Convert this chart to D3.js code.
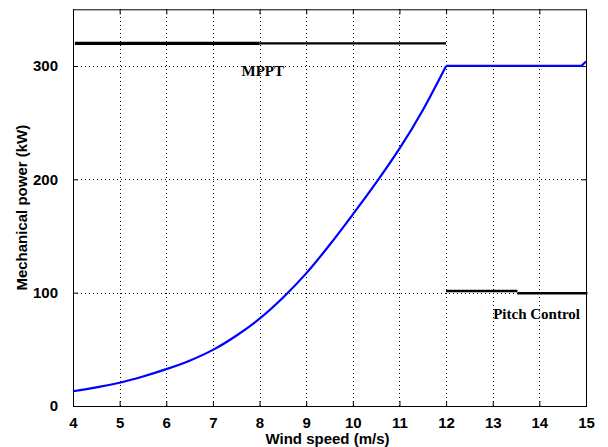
<!DOCTYPE html>
<html>
<head>
<meta charset="utf-8">
<script src="https://cdn.jsdelivr.net/npm/d3@7"></script>
<style>
  html, body { margin: 0; padding: 0; background: #fff; }
  svg { display: block; }
  .tick-label { font-family: "Liberation Sans", Arial, sans-serif; font-weight: bold; font-size: 15px; fill: #000; }
  .axis-title { font-family: "Liberation Sans", Arial, sans-serif; font-weight: bold; font-size: 15px; fill: #000; }
  .annot { font-family: "Liberation Serif", "Times New Roman", serif; font-weight: bold; font-size: 15px; fill: #000; }
</style>
</head>
<body>
<svg id="chart" width="608" height="447"></svg>
<script>
// Wind speed (m/s) and mechanical power (kW) of the turbine
const windSpeed = [4, 4.5, 5, 5.5, 6, 6.5, 7, 7.5, 8, 8.5, 9, 9.5, 10, 10.5, 11, 11.5, 12, 14.9, 15];
const mechPower = [13, 16.5, 20.5, 26, 32.5, 40, 49.5, 62, 77, 95.5, 117, 142, 169, 197, 227, 261, 300, 300, 304];

// Speed at which the power limit is reached (end of MPPT region)
const ratedSpeed = 12;

// Control-region indicator bars: [start speed, end speed, level]
const mpptBars  = [[4.04, 8, 320], [8, 12, 320]];
const pitchBars = [[12, 13.53, 101.5], [13.53, 15.03, 99.5]];

// Axis ticks
const xTicks = [4, 5, 6, 7, 8, 9, 10, 11, 12, 13, 14, 15];
const yTicks = [0, 100, 200, 300];

const svg = d3.select("#chart");
const x = d3.scaleLinear().domain([4, 15]).range([73, 586]);
const y = d3.scaleLinear().domain([0, 350]).range([406, 9.3]);

const [x0, x1] = x.range();
const [y0, y1] = y.range();

// Dotted grid
const grid = svg.append("g").attr("stroke", "#000").attr("stroke-width", 1)
  .attr("stroke-dasharray", "1,3").attr("shape-rendering", "crispEdges");
grid.selectAll("line.vx").data(xTicks.slice(1, -1)).join("line")
  .attr("x1", d => Math.round(x(d)) + 0.5).attr("x2", d => Math.round(x(d)) + 0.5)
  .attr("y1", y1).attr("y2", y0);
grid.selectAll("line.hy").data(yTicks.slice(1)).join("line")
  .attr("x1", x0).attr("x2", x1)
  .attr("y1", d => Math.round(y(d)) + 0.5).attr("y2", d => Math.round(y(d)) + 0.5);

// Axes with inward ticks
const bottomAxis = d3.axisBottom(x).tickValues(xTicks).tickSize(-5).tickPadding(11).tickFormat(d3.format("d"));
const topAxis = d3.axisTop(x).tickValues(xTicks).tickSize(-5).tickFormat("");
const leftAxis = d3.axisLeft(y).tickValues(yTicks).tickSize(-5).tickPadding(15).tickFormat(d3.format("d"));
const rightAxis = d3.axisRight(y).tickValues(yTicks).tickSize(-5).tickFormat("");

function styleAxis(g) {
  g.select(".domain").remove();
  g.selectAll(".tick line").attr("stroke", "#000");
  g.selectAll(".tick text").attr("class", "tick-label").attr("fill", "#000");
}
svg.append("g").attr("transform", `translate(0,${y0})`).call(bottomAxis).call(styleAxis)
  .selectAll("text").attr("dy", "0.71em");
svg.append("g").attr("transform", `translate(0,${y1})`).call(topAxis).call(styleAxis);
svg.append("g").attr("transform", `translate(${x0},0)`).call(leftAxis).call(styleAxis);
svg.append("g").attr("transform", `translate(${x1},0)`).call(rightAxis).call(styleAxis);

// Plot frame
svg.append("rect")
  .attr("x", x0 + 0.5).attr("y", y1 + 0.5)
  .attr("width", x1 - x0).attr("height", y0 - y1)
  .attr("fill", "none").attr("stroke", "#000").attr("stroke-width", 1);

// Power curve: smooth rise up to rated speed, then the limited plateau
const points = windSpeed.map((v, i) => [v, mechPower[i]]);
const rising = points.filter(d => d[0] <= ratedSpeed);
const plateau = points.filter(d => d[0] >= ratedSpeed);
const smooth = d3.line().x(d => x(d[0])).y(d => y(d[1])).curve(d3.curveMonotoneX);
const straight = d3.line().x(d => x(d[0])).y(d => y(d[1]));
const curveG = svg.append("g").attr("fill", "none").attr("stroke", "#0000ff")
  .attr("stroke-width", 2.2).attr("stroke-linejoin", "round");
curveG.append("path").datum(rising).attr("d", smooth);
curveG.append("path").datum(plateau).attr("d", straight);

// Region bars
svg.append("g").selectAll("line").data(mpptBars).join("line")
  .attr("x1", d => x(d[0])).attr("x2", d => x(d[1]))
  .attr("y1", d => y(d[2])).attr("y2", d => y(d[2]))
  .attr("stroke", "#000").attr("stroke-width", (d, i) => i === 0 ? 3.2 : 2.2);
svg.append("g").selectAll("line").data(pitchBars).join("line")
  .attr("x1", d => x(d[0])).attr("x2", d => x(d[1]))
  .attr("y1", d => y(d[2])).attr("y2", d => y(d[2]))
  .attr("stroke", "#000").attr("stroke-width", 2.4);

// Region labels
svg.append("text").attr("class", "annot")
  .attr("x", x(8.07)).attr("y", y(291)).attr("text-anchor", "middle").text("MPPT");
svg.append("text").attr("class", "annot")
  .attr("x", x(13.94)).attr("y", y(77)).attr("text-anchor", "middle").text("Pitch Control");

// Axis titles
svg.append("text").attr("class", "axis-title")
  .attr("x", (x0 + x1) / 2 - 2).attr("y", 444).attr("text-anchor", "middle")
  .text("Wind speed (m/s)");
svg.append("text").attr("class", "axis-title")
  .attr("transform", `translate(27,${(y0 + y1) / 2}) rotate(-90)`)
  .attr("text-anchor", "middle")
  .text("Mechanical power (kW)");
</script>
</body>
</html>
